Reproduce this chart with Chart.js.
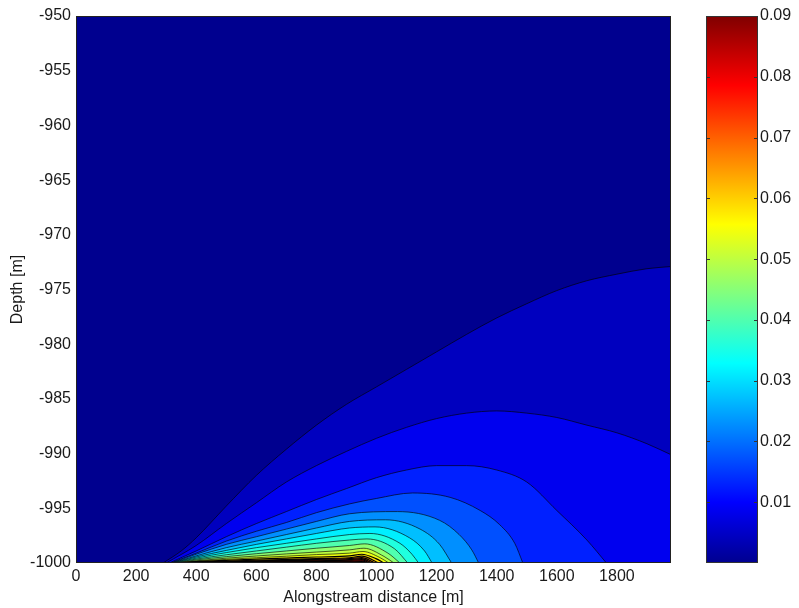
<!DOCTYPE html>
<html lang="en">
<head>
<meta charset="UTF-8" />
<title>Plume concentration contours</title>
<script src="https://cdn.jsdelivr.net/npm/chart.js"></script>
<style>
  html, body { margin: 0; padding: 0; background: #fff; }
  #wrap { position: relative; width: 799px; height: 608px; }
  #plot { position: absolute; left: 0; top: 0; }
  #cbar { position: absolute; left: 690px; top: 0; }
</style>
</head>
<body>
<div id="wrap">
  <canvas id="plot" width="690" height="608"></canvas>
  <canvas id="cbar" width="109" height="608"></canvas>
</div>
<script>
// axis ticks
const xTicks = [0, 200, 400, 600, 800, 1000, 1200, 1400, 1600, 1800];
const yTicks = [-1000, -995, -990, -985, -980, -975, -970, -965, -960, -955, -950];
const cbarTicks = [0.01, 0.02, 0.03, 0.04, 0.05, 0.06, 0.07, 0.08, 0.09];
const cmax = 0.09;

// contour levels (concentration), one per line below
const levels = [0.0045, 0.009, 0.0135, 0.018, 0.0225, 0.027, 0.0315, 0.036, 0.0405, 0.045,
  0.0495, 0.054, 0.0585, 0.063, 0.0675, 0.072, 0.0765, 0.081, 0.0855];

// contour lines: [distance m, depth m]
const contour01 = [[290,-1000],[350,-998.9],[400,-997.7],[500,-994.8],[600,-992.0],[700,-989.6],[800,-987.4],[900,-985.5],[1000,-983.9],[1100,-982.3],[1200,-980.7],[1300,-979.1],[1400,-977.6],[1500,-976.3],[1600,-975.1],[1700,-974.2],[1800,-973.6],[1900,-973.1],[1980,-972.9]];
const contour02 = [[300,-1000],[400,-998.4],[500,-996.4],[600,-994.5],[700,-992.6],[800,-991.1],[900,-989.8],[1000,-988.6],[1100,-987.6],[1200,-986.8],[1300,-986.3],[1400,-986.1],[1500,-986.3],[1600,-986.7],[1700,-987.4],[1800,-988.1],[1900,-989.1],[1980,-990.1]];
const contour03 = [[310,-1000],[400,-998.9],[500,-997.6],[600,-996.4],[700,-995.3],[800,-994.2],[900,-993.2],[1000,-992.2],[1100,-991.5],[1200,-991.1],[1300,-991.1],[1400,-991.5],[1500,-992.6],[1600,-995.2],[1700,-997.9],[1765,-1000]];
const contour04 = [[315,-1000],[400,-999.1],[500,-998.0],[600,-997.1],[700,-996.3],[800,-995.4],[910,-994.6],[1000,-994.1],[1120,-993.6],[1245,-994.0],[1345,-995.2],[1410,-996.5],[1460,-998.2],[1487,-1000]];
const contour05 = [[318,-1000],[400,-999.2],[500,-998.3],[600,-997.6],[700,-996.9],[800,-996.2],[910,-995.5],[1070,-995.3],[1210,-996.1],[1275,-997.4],[1317,-998.8],[1340,-1000]];
const contour06 = [[320,-1000],[400,-999.35],[500,-998.6],[600,-998.0],[700,-997.4],[800,-996.8],[910,-996.2],[1030,-996.05],[1145,-996.9],[1210,-998.3],[1250,-1000]];
const contour07 = [[322,-1000],[400,-999.45],[500,-998.85],[600,-998.3],[700,-997.8],[800,-997.3],[910,-996.8],[995,-996.7],[1110,-997.7],[1160,-998.9],[1185,-1000]];
const contour08 = [[324,-1000],[400,-999.55],[500,-999.05],[600,-998.6],[700,-998.2],[800,-997.8],[910,-997.4],[978,-997.3],[1078,-998.2],[1118,-999.2],[1140,-1000]];
const contour09 = [[326,-1000],[400,-999.64],[500,-999.25],[600,-998.9],[700,-998.55],[800,-998.2],[910,-997.9],[968,-997.8],[1060,-998.7],[1104,-1000]];
const contour10 = [[328,-1000],[400,-999.72],[500,-999.42],[600,-999.15],[700,-998.9],[800,-998.65],[910,-998.4],[961,-998.25],[1038,-999.1],[1078,-1000]];
const contour11 = [[330,-1000],[400,-999.8],[500,-999.56],[600,-999.36],[700,-999.17],[800,-999.0],[910,-998.8],[958,-998.65],[1025,-999.4],[1058,-1000]];
const contour12 = [[330,-1000],[400,-999.84],[500,-999.67],[600,-999.52],[700,-999.38],[800,-999.23],[910,-999.1],[955,-998.95],[1011,-999.5],[1041,-1000]];
const contour13 = [[330,-1000],[400,-999.88],[500,-999.76],[600,-999.65],[700,-999.55],[800,-999.45],[910,-999.35],[951,-999.2],[998,-999.6],[1025,-1000]];
const contour14 = [[330,-1000],[400,-999.91],[600,-999.75],[800,-999.6],[910,-999.52],[951,-999.38],[1008,-1000]];
const contour15 = [[330,-1000],[400,-999.93],[600,-999.8],[800,-999.67],[910,-999.6],[951,-999.5],[995,-1000]];
const contour16 = [[330,-1000],[400,-999.95],[600,-999.84],[800,-999.74],[910,-999.68],[951,-999.6],[985,-1000]];
const contour17 = [[330,-1000],[400,-999.96],[600,-999.88],[800,-999.8],[910,-999.75],[951,-999.7],[978,-1000]];
const contour18 = [[330,-1000],[400,-999.97],[600,-999.92],[800,-999.87],[910,-999.83],[951,-999.8],[971,-1000]];
const contour19 = [[330,-1000],[400,-999.98],[600,-999.95],[800,-999.92],[910,-999.9],[951,-999.88],[965,-1000]];

const contourLines = [contour01, contour02, contour03, contour04, contour05, contour06, contour07,
  contour08, contour09, contour10, contour11, contour12, contour13, contour14, contour15,
  contour16, contour17, contour18, contour19];

// matlab-ish jet colormap
function jetc(v) {
  const x = 4 * Math.min(Math.max(v, 0), 1);
  const c = t => Math.round(255 * Math.min(Math.max(t, 0), 1));
  return 'rgb(' + c(Math.min(x - 1.5, 4.5 - x)) + ',' + c(Math.min(x - 0.5, 3.5 - x)) + ',' + c(Math.min(x + 0.5, 2.5 - x)) + ')';
}
function jet64(v) {
  const j = Math.min(63, Math.floor(v * 64));
  return jetc((j + 1) / 64);
}

const font = { family: "'Liberation Sans', Arial, sans-serif", size: 16 };
const textColor = '#1a1a1a';

const datasets = contourLines.map((pts, i) => ({
  data: pts.map(p => ({ x: p[0], y: p[1] })),
  fill: 'start',
  backgroundColor: jet64(levels[i] / cmax),
  borderColor: i < 12 ? 'rgba(0,0,0,0.8)' : '#000',
  borderWidth: i < 12 ? 0.8 : 1.2,
  pointRadius: 0,
  cubicInterpolationMode: 'monotone',
  order: -i,
}));

// navy background for the lowest band + axes box
const plotBox = {
  id: 'plotBox',
  beforeDatasetsDraw(chart) {
    const a = chart.chartArea, ctx = chart.ctx;
    ctx.save();
    ctx.fillStyle = jet64(0);
    ctx.fillRect(a.left, a.top, a.right - a.left, a.bottom - a.top);
    ctx.restore();
  },
  afterDraw(chart) {
    const a = chart.chartArea, ctx = chart.ctx;
    ctx.save();
    ctx.strokeStyle = '#222';
    ctx.lineWidth = 1;
    ctx.strokeRect(a.left + 0.5, a.top + 0.5, a.right - a.left - 1, a.bottom - a.top - 1);
    ctx.restore();
  }
};

new Chart(document.getElementById('plot'), {
  type: 'line',
  data: { datasets },
  plugins: [plotBox],
  options: {
    responsive: false,
    animation: false,
    layout: { padding: { left: 0, top: 16, right: 19, bottom: 0 } },
    plugins: { legend: { display: false }, tooltip: { enabled: false } },
    scales: {
      x: {
        type: 'linear',
        min: 0,
        max: 1980,
        grid: { display: false, drawTicks: false },
        border: { display: false },
        afterBuildTicks: s => { s.ticks = xTicks.map(v => ({ value: v })); },
        afterFit: s => { s.height = 45; },
        ticks: { font, color: textColor, padding: 4, maxRotation: 0, autoSkip: false, callback: v => String(v) },
        title: { display: true, text: 'Alongstream distance [m]', font, color: textColor, padding: { top: 1, bottom: 1 } },
      },
      y: {
        min: -1000,
        max: -950,
        grid: { display: false, drawTicks: false },
        border: { display: false },
        afterBuildTicks: s => { s.ticks = yTicks.map(v => ({ value: v })); },
        afterFit: s => { s.width = 76; },
        ticks: { font, color: textColor, padding: 5, autoSkip: false, callback: v => String(v) },
        title: { display: true, text: 'Depth [m]', font, color: textColor, padding: { top: 8, bottom: 8 } },
      },
    },
  },
});

// colorbar
const cbarTickMarks = {
  id: 'cbarTickMarks',
  afterDraw(chart) {
    const a = chart.chartArea, ctx = chart.ctx, y = chart.scales.y;
    ctx.save();
    ctx.strokeStyle = '#333';
    ctx.lineWidth = 1;
    cbarTicks.forEach(v => {
      const py = Math.round(y.getPixelForValue(v)) + 0.5;
      ctx.beginPath();
      ctx.moveTo(a.left, py); ctx.lineTo(a.left + 4, py);
      ctx.moveTo(a.right - 4, py); ctx.lineTo(a.right, py);
      ctx.stroke();
    });
    ctx.strokeRect(a.left + 0.5, a.top + 0.5, a.right - a.left - 1, a.bottom - a.top - 1);
    ctx.restore();
  }
};

new Chart(document.getElementById('cbar'), {
  type: 'bar',
  data: {
    labels: [''],
    datasets: [{
      data: [cmax],
      barPercentage: 1,
      categoryPercentage: 1,
      borderWidth: 0,
      backgroundColor: c => {
        const a = c.chart.chartArea;
        if (!a) return null;
        const g = c.chart.ctx.createLinearGradient(0, a.bottom, 0, a.top);
        for (let i = 0; i < 64; i++) g.addColorStop(i / 63, jetc((i + 1) / 64));
        return g;
      },
    }],
  },
  plugins: [cbarTickMarks],
  options: {
    responsive: false,
    animation: false,
    layout: { padding: { left: 16, top: 16, right: 0, bottom: 45 } },
    plugins: { legend: { display: false }, tooltip: { enabled: false } },
    scales: {
      x: { display: false },
      y: {
        position: 'right',
        min: 0,
        max: cmax,
        grid: { display: false, drawTicks: false },
        border: { display: false },
        afterBuildTicks: s => { s.ticks = cbarTicks.map(v => ({ value: v })); },
        afterFit: s => { s.width = 41; },
        ticks: { font, color: textColor, padding: 2, callback: v => v.toFixed(2) },
      },
    },
  },
});
</script>
</body>
</html>
